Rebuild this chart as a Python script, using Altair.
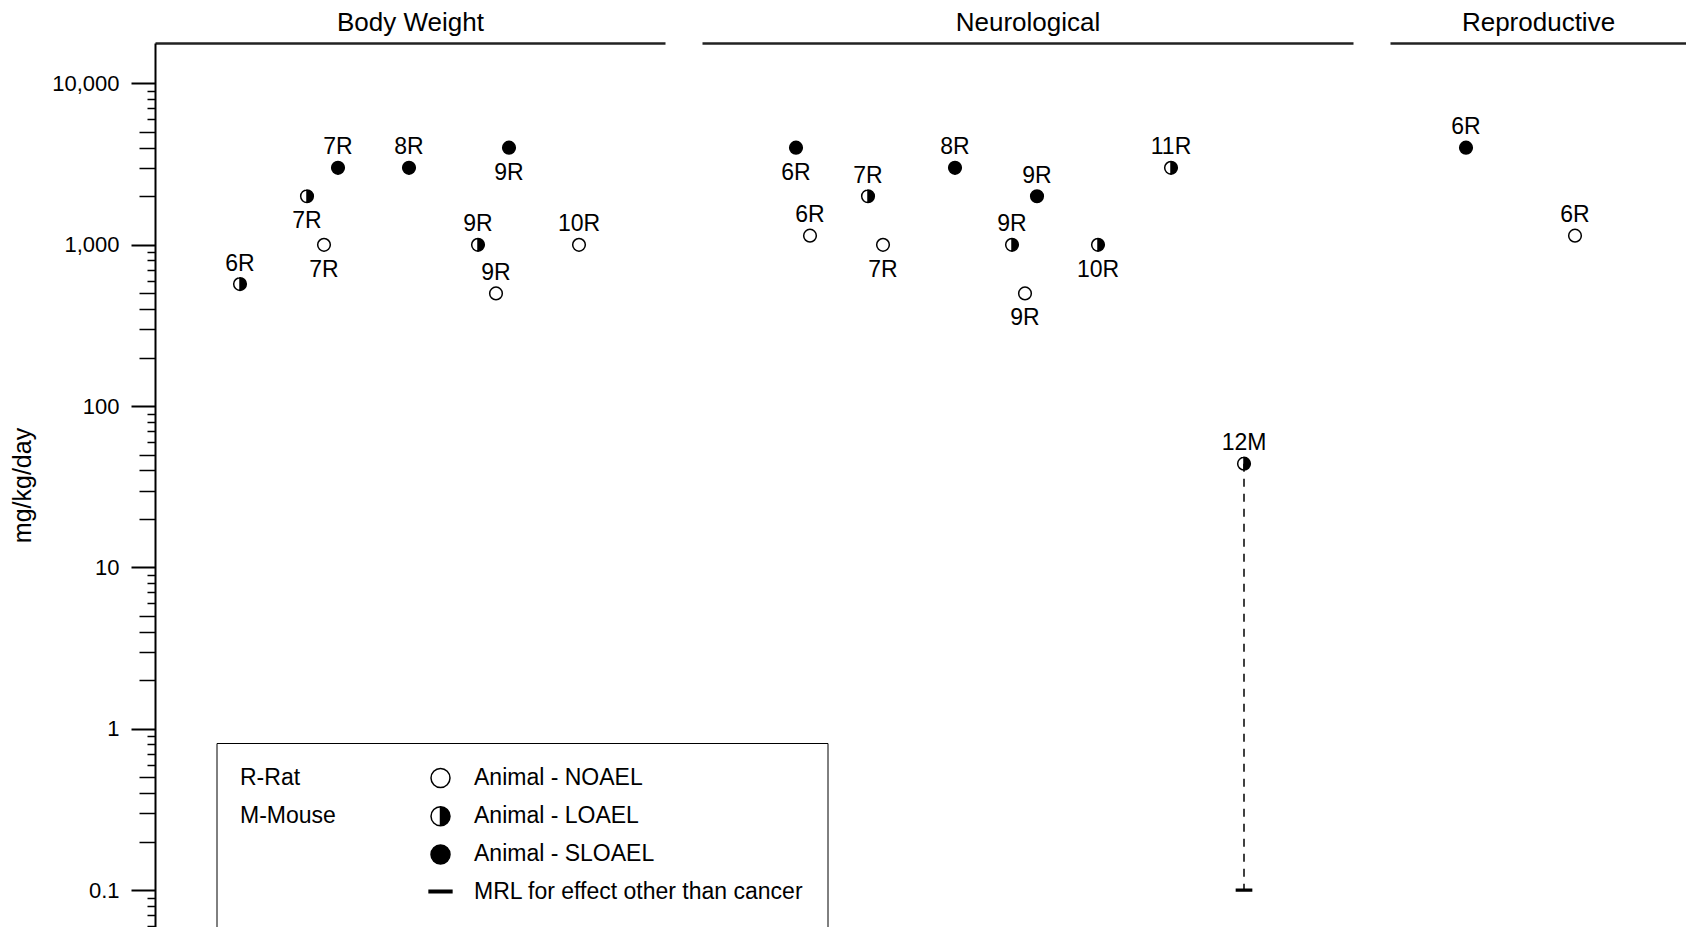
import altair as alt
import pandas as pd

FONT = "Liberation Sans"

# ---- data ----
panels = ["Body Weight", "Neurological", "Reproductive"]
panel_span = [51.0, 65.1, 29.6]          # study-column slots per panel

endpoint = (["Body Weight"] * 9 + ["Neurological"] * 11 + ["Reproductive"] * 2)
study_pos = [8.5, 15.2, 16.9, 18.3, 25.4, 32.3, 34.1, 35.4, 42.4,
             9.4, 10.8, 16.6, 18.1, 25.3, 31.0, 32.3, 33.5, 39.6, 46.9, 54.2,
             7.6, 18.5]
dose = [571, 2000, 1000, 3000, 3000, 1000, 500, 4000, 1000,
        4000, 1140, 2000, 1000, 3000, 1000, 500, 2000, 1000, 3000, 44,
        4000, 1140]
effect = ["LOAEL", "LOAEL", "NOAEL", "SLOAEL", "SLOAEL", "LOAEL", "NOAEL", "SLOAEL", "NOAEL",
          "SLOAEL", "NOAEL", "LOAEL", "NOAEL", "SLOAEL", "LOAEL", "NOAEL", "SLOAEL", "LOAEL", "LOAEL", "LOAEL",
          "SLOAEL", "NOAEL"]
label = ["6R", "7R", "7R", "7R", "8R", "9R", "9R", "9R", "10R",
         "6R", "6R", "7R", "7R", "8R", "9R", "9R", "9R", "10R", "11R", "12M",
         "6R", "6R"]
label_side = ["above", "below", "below", "above", "above", "above", "above", "below", "above",
              "below", "above", "above", "below", "above", "above", "below", "above", "below", "above", "above",
              "above", "above"]

# MRL (0.1 mg/kg/day) derived from the 12M LOAEL
mrl_endpoint = ["Neurological"]
mrl_pos = [54.2]
mrl_dose = [0.1]
mrl_from = [44]

major_ticks = [0.1, 1, 10, 100, 1000, 10000]
mid_ticks = [m * d for d in [0.1, 1, 10, 100, 1000] for m in (2, 3, 4, 5)]
small_ticks = [m * d for d in [0.01, 0.1, 1, 10, 100, 1000] for m in (6, 7, 8, 9)]

effect_domain = ["NOAEL", "LOAEL", "SLOAEL", "MRL"]
LOAEL_PATH = "M0,-1A1,1 0 0,1 0,1A1,1 0 0,1 0,-1A1,1 0 0,0 0,1Z"
MRL_PATH = "M-1.2,-0.13L1.2,-0.13L1.2,0.13L-1.2,0.13Z"
shape_range = ["circle", LOAEL_PATH, "circle", MRL_PATH]
fill_range = ["white", "black", "black", "black"]
stroke_range = ["black", "black", "black", "black"]

# ---- tables ----
df = pd.DataFrame(dict(endpoint=endpoint, pos=study_pos, dose=dose,
                       effect=effect, label=label, side=label_side))
mrl_df = pd.DataFrame(dict(endpoint=mrl_endpoint, pos=mrl_pos, dose=mrl_dose,
                           from_dose=mrl_from, effect=["MRL"]))
pts_df = pd.concat([df, mrl_df[["endpoint", "pos", "dose", "effect"]]], ignore_index=True)

yscale = alt.Scale(type="log", domain=[0.0591, 17824], nice=False)

legend = alt.Legend(
    orient="none", legendX=61.5, legendY=700,
    title=["R-Rat", "M-Mouse"], titleOrient="left", titleAnchor="start",
    titleBaseline="top", titleFont=FONT, titleFontSize=23, titleFontWeight="normal",
    titleColor="black", titleLineHeight=38.9, titlePadding=93, titleLimit=400,
    labelFont=FONT, labelFontSize=23, labelColor="black", labelOffset=22, labelLimit=600,
    labelExpr="datum.label == 'MRL' ? 'MRL for effect other than cancer' : 'Animal - ' + datum.label",
    symbolSize=361, symbolStrokeWidth=1.5, symbolOpacity=1,
    rowPadding=13.2, padding=23.5, strokeColor="black", fillColor="white", cornerRadius=0,
)

main_axis = alt.Axis(orient="left", values=major_ticks, format=",~f", tickSize=24, tickWidth=2,
                     tickColor="black", domainColor="black", domainWidth=2, grid=False,
                     labelFont=FONT, labelFontSize=22, labelColor="black", labelPadding=12,
                     title="mg/kg/day", titleFont=FONT, titleFontSize=25, titleFontWeight="normal",
                     titleColor="black", titlePadding=10, minExtent=110, maxExtent=110)


def tick_axis(vals, size):
    return alt.Axis(orient="left", values=vals, tickSize=size, tickWidth=1.5, tickColor="black",
                    labels=False, domain=False, grid=False, title=None)


def panel(name, span, first):
    x = alt.X("pos:Q", scale=alt.Scale(domain=[0, span], nice=False, zero=False),
              axis=alt.Axis(orient="top", title=name, ticks=False, labels=False, grid=False,
                            domain=True, domainColor="#222222", domainWidth=2.5,
                            titleFont=FONT, titleFontSize=26, titleFontWeight="normal",
                            titleColor="black", titlePadding=8, minExtent=0, maxExtent=0))
    sel = alt.datum.endpoint == name

    rule = alt.Chart(mrl_df).transform_filter(sel).mark_rule(
        strokeDash=[8, 7], strokeWidth=1.5, color="black").encode(
        x=x, y=alt.Y("from_dose:Q", scale=yscale, axis=None), y2="dose:Q")

    pts = alt.Chart(pts_df).transform_filter(sel).mark_point(
        filled=True, strokeWidth=1.5, size=160, opacity=1).encode(
        x=x,
        y=alt.Y("dose:Q", scale=yscale, axis=main_axis if first else None),
        shape=alt.Shape("effect:N", scale=alt.Scale(domain=effect_domain, range=shape_range),
                        legend=legend if first else None),
        fill=alt.Fill("effect:N", scale=alt.Scale(domain=effect_domain, range=fill_range),
                      legend=legend if first else None),
        stroke=alt.Stroke("effect:N", scale=alt.Scale(domain=effect_domain, range=stroke_range),
                          legend=legend if first else None),
    )

    above = alt.Chart(df).transform_filter(sel & (alt.datum.side == "above")).mark_text(
        font=FONT, fontSize=23, color="black", baseline="alphabetic", align="center", dy=-13.5).encode(
        x=x, y=alt.Y("dose:Q", scale=yscale, axis=None), text="label:N")
    below = alt.Chart(df).transform_filter(sel & (alt.datum.side == "below")).mark_text(
        font=FONT, fontSize=23, color="black", baseline="alphabetic", align="center", dy=32).encode(
        x=x, y=alt.Y("dose:Q", scale=yscale, axis=None), text="label:N")

    layers = [rule, pts, above, below]
    if first:
        for vals, size in ((mid_ticks, 16), (small_ticks, 8)):
            layers.append(alt.Chart(df).mark_point(opacity=0).encode(
                x=x, y=alt.Y("dose:Q", scale=yscale, axis=tick_axis(vals, size))))
        return alt.layer(*layers).resolve_axis(y="independent").properties(
            width=span * 10, height=884)
    return alt.layer(*layers).properties(width=span * 10, height=884)


charts = [panel(n, s, i == 0) for i, (n, s) in enumerate(zip(panels, panel_span))]

chart = alt.hconcat(*charts, spacing=37, bounds="flush").resolve_legend(
    shape="independent", fill="independent", stroke="independent").properties(
    padding={"left": 2, "top": 1, "right": 0, "bottom": 0}).configure_view(stroke=None)

chart.save("out.html", embed_options={"renderer": "svg", "actions": False})
